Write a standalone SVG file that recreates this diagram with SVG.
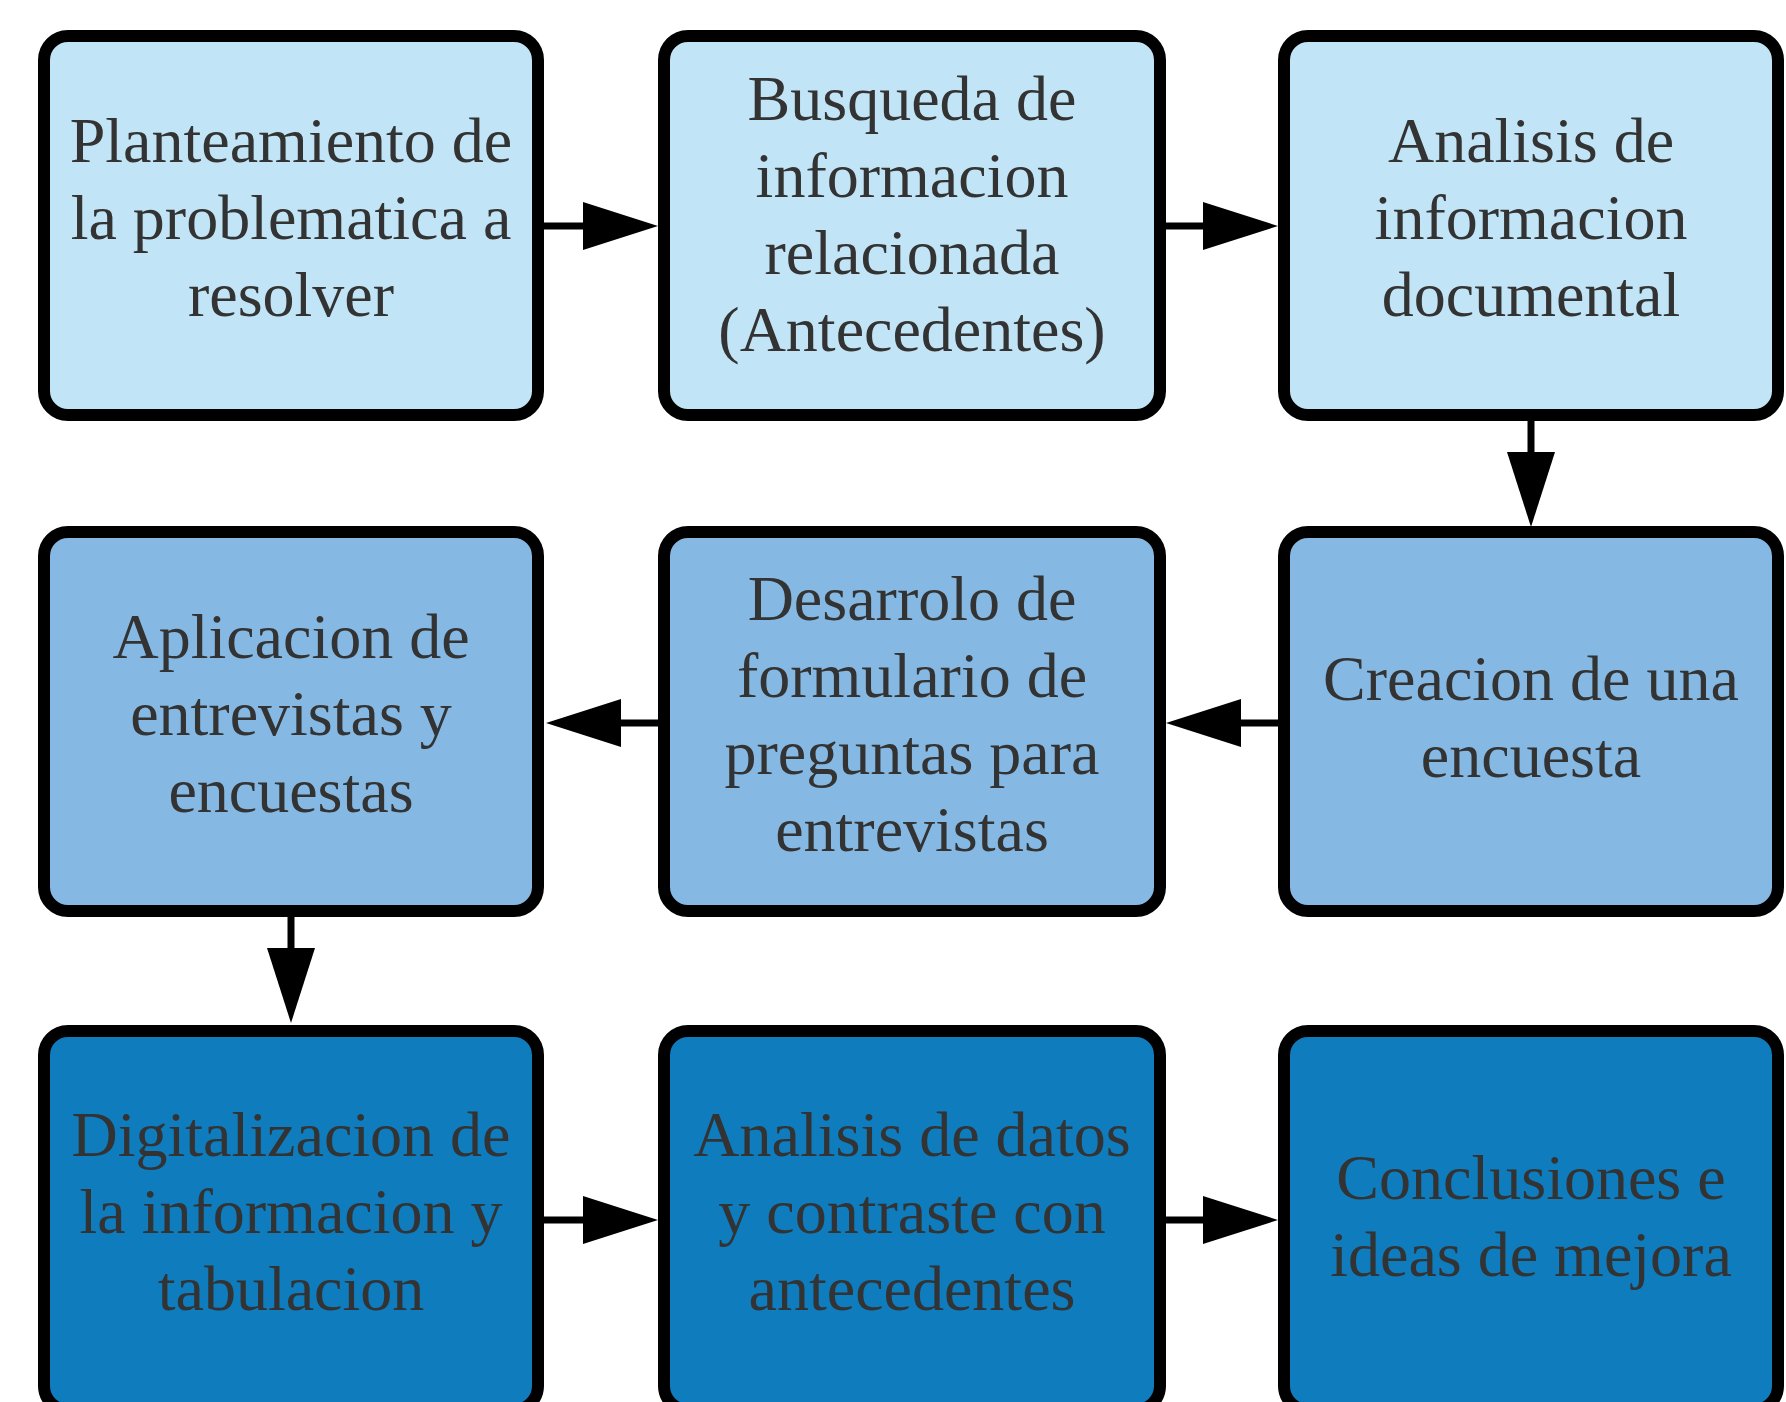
<svg xmlns="http://www.w3.org/2000/svg" width="1786" height="1402" viewBox="0 0 1786 1402">
<style>
.box{stroke:#000;stroke-width:12}
.r1{fill:#C1E4F6}
.r2{fill:#85B9E3}
.r3{fill:#0E7CBD}
text{font-family:"Liberation Serif","Times New Roman",serif;font-size:64px;fill:#333;text-anchor:middle}
.conn line{stroke:#000;stroke-width:7;marker-end:url(#ah)}
</style>
<defs>
<marker id="ah" markerUnits="userSpaceOnUse" markerWidth="76" markerHeight="50" refX="0" refY="25" orient="auto" overflow="visible">
<path d="M0,1 L75,25 L0,49 z" fill="#000"/>
</marker>
</defs>
<rect width="1786" height="1402" fill="#fff"/>
<g id="connectors" class="conn">
<line x1="544" y1="226" x2="583" y2="226"/>
<line x1="1166" y1="226" x2="1203" y2="226"/>
<line x1="1531" y1="421" x2="1531" y2="452"/>
<line x1="1278" y1="723" x2="1241" y2="723"/>
<line x1="658" y1="723" x2="621" y2="723"/>
<line x1="291" y1="917" x2="291" y2="948"/>
<line x1="544" y1="1220" x2="583" y2="1220"/>
<line x1="1166" y1="1220" x2="1203" y2="1220"/>
</g>
<g id="n1"><rect class="box r1" x="44" y="36" width="494" height="379" rx="24"/>
<text x="291" y="162">Planteamiento de</text><text x="291" y="239">la problematica a</text><text x="291" y="316">resolver</text></g>
<g id="n2"><rect class="box r1" x="664" y="36" width="496" height="379" rx="24"/>
<text x="912" y="120">Busqueda de</text><text x="912" y="197">informacion</text><text x="912" y="274">relacionada</text><text x="912" y="351">(Antecedentes)</text></g>
<g id="n3"><rect class="box r1" x="1284" y="36" width="494" height="379" rx="24"/>
<text x="1531" y="162">Analisis de</text><text x="1531" y="239">informacion</text><text x="1531" y="316">documental</text></g>
<g id="n4"><rect class="box r2" x="44" y="532" width="494" height="379" rx="24"/>
<text x="291" y="658">Aplicacion de</text><text x="291" y="735">entrevistas y</text><text x="291" y="812">encuestas</text></g>
<g id="n5"><rect class="box r2" x="664" y="532" width="496" height="379" rx="24"/>
<text x="912" y="620">Desarrolo de</text><text x="912" y="697">formulario de</text><text x="912" y="774">preguntas para</text><text x="912" y="851">entrevistas</text></g>
<g id="n6"><rect class="box r2" x="1284" y="532" width="494" height="379" rx="24"/>
<text x="1531" y="700">Creacion de una</text><text x="1531" y="777">encuesta</text></g>
<g id="n7"><rect class="box r3" x="44" y="1031" width="494" height="379" rx="24"/>
<text x="291" y="1156">Digitalizacion de</text><text x="291" y="1233">la informacion y</text><text x="291" y="1310">tabulacion</text></g>
<g id="n8"><rect class="box r3" x="664" y="1031" width="496" height="379" rx="24"/>
<text x="912" y="1156">Analisis de datos</text><text x="912" y="1233">y contraste con</text><text x="912" y="1310">antecedentes</text></g>
<g id="n9"><rect class="box r3" x="1284" y="1031" width="494" height="379" rx="24"/>
<text x="1531" y="1199">Conclusiones e</text><text x="1531" y="1276">ideas de mejora</text></g>
</svg>
